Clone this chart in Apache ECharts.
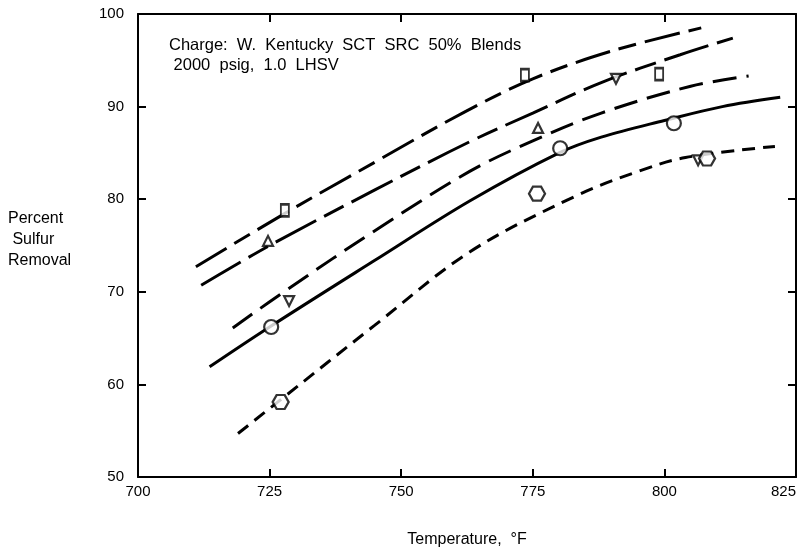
<!DOCTYPE html>
<html>
<head>
<meta charset="utf-8">
<script src="https://cdn.jsdelivr.net/npm/echarts@6/dist/echarts.min.js"></script>
<style>
  html, body { margin: 0; padding: 0; background: #fff; overflow: hidden; }
  #chart { width: 804px; height: 548px; }
</style>
</head>
<body>
<div id="chart"></div>
<script>
// Fitted sulfur-removal curves (temperature °F, percent removal)
const tempsA = [711, 728, 745, 762, 775, 790, 807];
const valsA  = [72.7, 78.5, 84.0, 89.4, 93.0, 96.0, 98.5];

const tempsB = [712, 725, 745, 763, 775, 788, 803, 813];
const valsB  = [70.7, 75.0, 81.0, 86.2, 89.3, 92.6, 95.6, 97.4];

const tempsC = [718, 729, 745, 763, 775, 788, 805, 816];
const valsC  = [66.1, 70.5, 76.6, 83.0, 86.3, 89.3, 92.2, 93.3];

const tempsD = [713.6, 725, 745, 763, 780, 788, 800, 811, 822];
const valsD  = [61.9, 66.2, 73.4, 79.8, 85.0, 86.7, 88.5, 90.0, 91.0];

const tempsE = [719, 727, 745, 763, 783, 795, 804, 821];
const valsE  = [54.7, 58.3, 66.4, 74.3, 80.3, 83.0, 84.5, 85.7];

// Measured points
const squareT = [727.9, 773.5, 799.0];
const squareV = [78.8, 93.4, 93.5];

const triUpT = [724.7, 776.0];
const triUpV = [75.5, 87.7];

const triDownT = [728.7, 790.8, 806.4];
const triDownV = [69.0, 93.0, 84.2];

const circleT = [725.3, 780.2, 801.8];
const circleV = [66.2, 85.5, 88.2];

const hexT = [727.1, 775.8, 808.1];
const hexV = [58.1, 80.6, 84.4];

// Axis ticks
const xTicks = [700, 725, 750, 775, 800, 825];
const yTicks = [50, 60, 70, 80, 90, 100];

const pairs = (xs, ys) => xs.map((x, i) => [x, ys[i]]);
const FONT = '"Liberation Sans", Arial, sans-serif';
const INK = '#000';

function curve(xs, ys, dash) {
  return {
    type: 'line',
    data: pairs(xs, ys),
    smooth: 0.35,
    showSymbol: false,
    silent: true,
    lineStyle: { color: INK, width: 3, type: dash, cap: 'butt' },
    z: 2
  };
}

function markers(xs, ys, symbol, size, rotate) {
  return {
    type: 'scatter',
    data: pairs(xs, ys),
    symbol: symbol,
    symbolSize: size,
    symbolRotate: rotate || 0,
    silent: true,
    itemStyle: { color: '#fff', borderColor: INK, borderWidth: 2.2 },
    z: 5
  };
}

const hexPath = 'path://M0,5 L3,0 L9,0 L12,5 L9,10 L3,10 Z';

const baseAxis = {
  type: 'value',
  axisLine: { show: true, lineStyle: { color: INK, width: 2 } },
  axisTick: { show: true, inside: true, length: 8, lineStyle: { color: INK, width: 2 } },
  splitLine: { show: false }
};

const chart = echarts.init(document.getElementById('chart'), null, {
  renderer: 'canvas', width: 804, height: 548
});

chart.setOption({
  animation: false,
  backgroundColor: '#fff',
  grid: {
    left: 138, right: 8, top: 14, bottom: 71,
    show: false, containLabel: false, outerBoundsMode: 'none'
  },
  xAxis: [
    Object.assign({}, baseAxis, {
      min: xTicks[0], max: xTicks[xTicks.length - 1], interval: 25,
      position: 'bottom',
      axisLabel: {
        color: INK, fontFamily: FONT, fontSize: 15, margin: 7,
        alignMaxLabel: 'right'
      },
      name: 'Temperature,  °F',
      nameLocation: 'middle',
      nameGap: 55,
      nameTextStyle: { color: INK, fontFamily: FONT, fontSize: 16 }
    }),
    Object.assign({}, baseAxis, {
      min: xTicks[0], max: xTicks[xTicks.length - 1], interval: 25,
      position: 'top',
      axisLabel: { show: false }
    })
  ],
  yAxis: [
    Object.assign({}, baseAxis, {
      min: yTicks[0], max: yTicks[yTicks.length - 1], interval: 10,
      position: 'left',
      axisLabel: { color: INK, fontFamily: FONT, fontSize: 15, margin: 14 }
    }),
    Object.assign({}, baseAxis, {
      min: yTicks[0], max: yTicks[yTicks.length - 1], interval: 10,
      position: 'right',
      axisLabel: { show: false }
    })
  ],
  graphic: [
    {
      type: 'text', left: 8, top: 208,
      style: {
        text: 'Percent\n Sulfur\nRemoval',
        fill: INK, font: '16px ' + FONT, lineHeight: 21, align: 'left'
      }
    },
    {
      type: 'text', left: 169, top: 35,
      style: {
        text: 'Charge:  W.  Kentucky  SCT  SRC  50%  Blends\n 2000  psig,  1.0  LHSV',
        fill: INK, font: '16.5px ' + FONT, lineHeight: 20
      }
    }
  ],
  series: [
    curve(tempsA, valsA, [36, 9, 18, 9]),
    curve(tempsB, valsB, [46, 9, 22, 9]),
    curve(tempsC, valsC, [24, 10]),
    curve(tempsD, valsD, 'solid'),
    curve(tempsE, valsE, [13, 8]),
    markers(squareT, squareV, 'rect', [8, 12]),
    markers(triUpT, triUpV, 'triangle', 10),
    markers(triDownT, triDownV, 'triangle', 10, 180),
    markers(circleT, circleV, 'circle', 14),
    markers(hexT, hexV, hexPath, [16, 14])
  ]
});
</script>
</body>
</html>
